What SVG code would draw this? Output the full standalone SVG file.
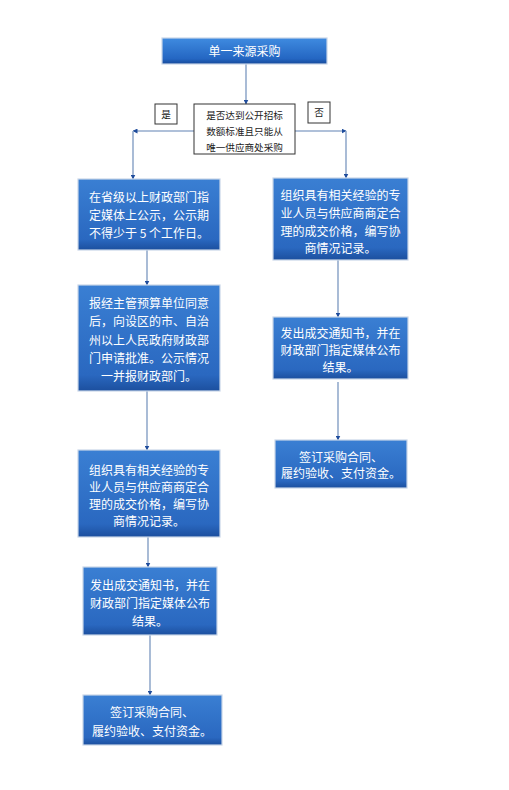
<svg xmlns="http://www.w3.org/2000/svg" width="509" height="790" viewBox="0 0 509 790">
<defs>
<linearGradient id="bg" x1="0" y1="0" x2="0" y2="1">
<stop offset="0" stop-color="#3a7fd3"/>
<stop offset="0.85" stop-color="#2a68c0"/>
<stop offset="1" stop-color="#1c4f9e"/>
</linearGradient>
<linearGradient id="tg" x1="0" y1="0" x2="0" y2="1">
<stop offset="0" stop-color="#3f8be0"/>
<stop offset="0.8" stop-color="#2466c2"/>
<stop offset="1" stop-color="#174a9a"/>
</linearGradient>
<marker id="ah" viewBox="0 0 10 10" refX="9" refY="5" markerWidth="5" markerHeight="5" orient="auto" markerUnits="userSpaceOnUse">
<path d="M0,0 L10,5 L0,10 Z" fill="#1f4c9c"/>
</marker>
<style>
.box{fill:url(#bg);stroke:#c9d6e8;stroke-width:1.2}
.title{fill:url(#tg);stroke:#c9d6e8;stroke-width:1.2}
.wbox{fill:#ffffff;stroke:#333333;stroke-width:1}
.t{font-family:"Noto Sans CJK SC","Liberation Sans",sans-serif;font-size:12px;fill:#ffffff;text-anchor:middle}
.d{font-family:"Noto Sans CJK SC","Liberation Sans",sans-serif;font-size:9.6px;fill:#222222;text-anchor:middle}
.c{fill:none;stroke:#94abcc;stroke-width:1.6;marker-end:url(#ah)}
</style>
</defs>
<rect width="509" height="790" fill="#ffffff"/>
<g id="connectors">
<line class="c" x1="246" y1="64" x2="246" y2="104"/>
<line class="c" x1="194" y1="131" x2="133" y2="131"/>
<line class="c" x1="133" y1="131" x2="133" y2="179"/>
<line class="c" x1="295" y1="131" x2="346" y2="131"/>
<line class="c" x1="346" y1="131" x2="346" y2="178"/>
<line class="c" x1="147" y1="250" x2="147" y2="285"/>
<line class="c" x1="147" y1="391" x2="147" y2="450"/>
<line class="c" x1="148" y1="537" x2="148" y2="567"/>
<line class="c" x1="150" y1="635" x2="150" y2="695"/>
<line class="c" x1="338" y1="260" x2="338" y2="317"/>
<line class="c" x1="338" y1="382" x2="338" y2="440"/>
</g>
<g id="n-title">
<rect class="title" x="162" y="38" width="165" height="26"/>
<text class="t" x="244.5" y="56">单一来源采购</text>
</g>
<g id="n-decision">
<rect class="wbox" x="194" y="104" width="101" height="50"/>
<text class="d" x="244.5" y="118.5">是否达到公开招标</text>
<text class="d" x="244.5" y="135">数额标准且只能从</text>
<text class="d" x="244.5" y="151">唯一供应商处采购</text>
</g>
<g id="n-yes">
<rect class="wbox" x="155" y="104" width="22" height="20"/>
<text class="d" x="166" y="117.5">是</text>
</g>
<g id="n-no">
<rect class="wbox" x="308" y="102" width="22" height="21"/>
<text class="d" x="319" y="116">否</text>
</g>
<g id="n-l1">
<rect class="box" x="78" y="179" width="142" height="71"/>
<text class="t" x="149" y="201.5">在省级以上财政部门指</text>
<text class="t" x="149" y="219.5">定媒体上公示，公示期</text>
<text class="t" x="149" y="237.5">不得少于 5 个工作日。</text>
</g>
<g id="n-l2">
<rect class="box" x="78" y="285" width="142" height="106"/>
<text class="t" x="149" y="307.5">报经主管预算单位同意</text>
<text class="t" x="149" y="326">后，向设区的市、自治</text>
<text class="t" x="149" y="344.5">州以上人民政府财政部</text>
<text class="t" x="149" y="362.5">门申请批准。公示情况</text>
<text class="t" x="149" y="380.5">一并报财政部门。</text>
</g>
<g id="n-l3">
<rect class="box" x="78" y="450" width="142" height="87"/>
<text class="t" x="149" y="474.5">组织具有相关经验的专</text>
<text class="t" x="149" y="491.5">业人员与供应商商定合</text>
<text class="t" x="149" y="508.5">理的成交价格，编写协</text>
<text class="t" x="149" y="525.5">商情况记录。</text>
</g>
<g id="n-l4">
<rect class="box" x="83" y="567" width="134" height="68"/>
<text class="t" x="150" y="589.5">发出成交通知书，并在</text>
<text class="t" x="150" y="607.5">财政部门指定媒体公布</text>
<text class="t" x="150" y="625.5">结果。</text>
</g>
<g id="n-l5">
<rect class="box" x="83" y="695" width="139" height="50"/>
<text class="t" x="152" y="716.5">签订采购合同、</text>
<text class="t" x="152" y="736">履约验收、支付资金。</text>
</g>
<g id="n-r1">
<rect class="box" x="273" y="178" width="135" height="82"/>
<text class="t" x="340.5" y="199.5">组织具有相关经验的专</text>
<text class="t" x="340.5" y="217.5">业人员与供应商商定合</text>
<text class="t" x="340.5" y="235.5">理的成交价格，编写协</text>
<text class="t" x="340.5" y="252.5">商情况记录。</text>
</g>
<g id="n-r2">
<rect class="box" x="273" y="317" width="135" height="62"/>
<text class="t" x="340.5" y="337.5">发出成交通知书，并在</text>
<text class="t" x="340.5" y="354.5">财政部门指定媒体公布</text>
<text class="t" x="340.5" y="371.5">结果。</text>
</g>
<g id="n-r3">
<rect class="box" x="275" y="440" width="132" height="48"/>
<text class="t" x="341" y="461.5">签订采购合同、</text>
<text class="t" x="341" y="477.5">履约验收、支付资金。</text>
</g>
</svg>
